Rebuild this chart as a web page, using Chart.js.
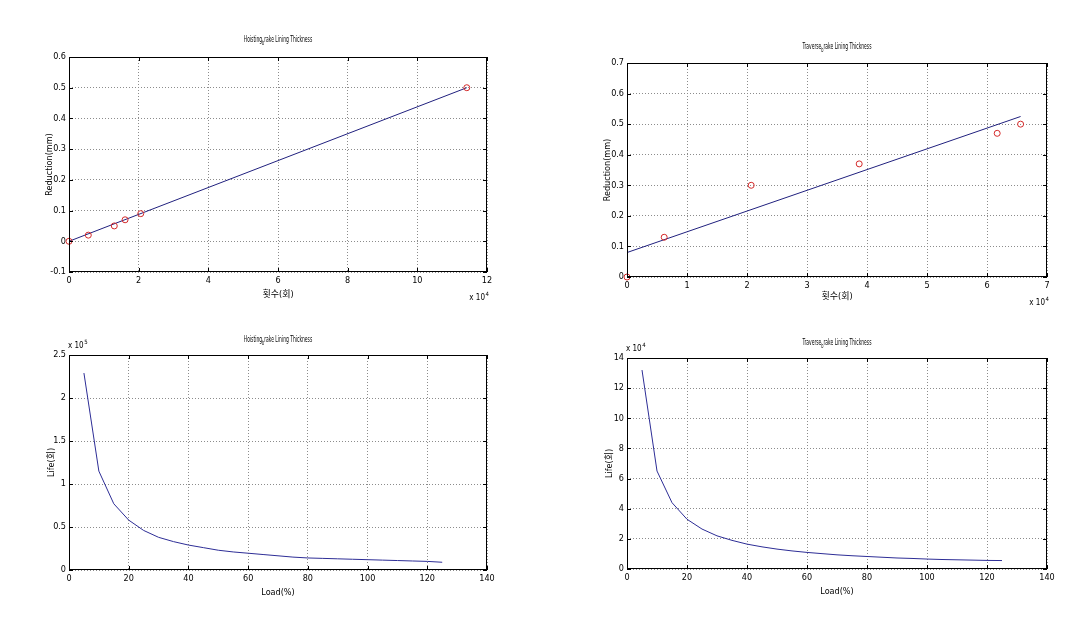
<!DOCTYPE html>
<html>
<head>
<meta charset="utf-8">
<script src="https://cdn.jsdelivr.net/npm/chart.js@4.4.1/dist/chart.umd.min.js"></script>
<style>
  html, body { margin: 0; padding: 0; background: #fff; }
  body { width: 1089px; height: 633px; position: relative; overflow: hidden; }
  canvas { position: absolute; }
</style>
</head>
<body>
<canvas id="hoistReduction"></canvas>
<canvas id="traverseReduction"></canvas>
<canvas id="hoistLife"></canvas>
<canvas id="traverseLife"></canvas>
<script>
// 데이터
const hoistCount = [0, 5540, 13000, 16100, 20600, 114200];      // 횟수(회)
const hoistReduction = [0, 0.02, 0.05, 0.07, 0.09, 0.5];        // mm
const hoistFitX = [0, 114200];
const hoistFitY = [0.0, 0.5];

const traverseCount = [0, 6200, 20700, 38700, 61700, 65600];
const traverseReduction = [0, 0.13, 0.30, 0.37, 0.47, 0.50];
const traverseFitX = [0, 65600];
const traverseFitY = [0.08, 0.525];

const loadPct = [5, 10, 15, 20, 25, 30, 35, 40, 45, 50, 55, 60, 65, 70, 75, 80, 85, 90, 95, 100, 105, 110, 115, 120, 125];
const hoistLife = [229000, 115000, 77000, 58000, 46000, 38000, 33000, 29000, 26000, 23000, 21000, 19500, 18000,
  16500, 15000, 14000, 13500, 13000, 12500, 12000, 11500, 11000, 10500, 10000, 9000];
const traverseLife = [132000, 65000, 44000, 33000, 26500, 22000, 19000, 16500, 14700, 13200, 12000, 11000, 10200,
  9400, 8800, 8300, 7800, 7300, 7000, 6600, 6300, 6100, 5900, 5700, 5600];

const FONT = "'Liberation Sans Narrow', 'DejaVu Sans Condensed', 'Liberation Sans', 'Noto Sans CJK KR', sans-serif";
const toXY = (xs, ys) => xs.map((x, i) => ({ x: x, y: ys[i] }));

// MATLAB 스타일 테두리, 안쪽 눈금, 제목, 지수 표시
const matlabFrame = {
  id: 'matlabFrame',
  afterDraw(chart, args, o) {
    const { ctx, chartArea: a } = chart;
    const xs = chart.scales.x, ys = chart.scales.y;
    ctx.save();
    ctx.strokeStyle = '#000';
    ctx.lineWidth = 1;
    ctx.beginPath();
    xs.ticks.forEach((t, i) => {
      const px = Math.round(xs.getPixelForTick(i)) + 0.5;
      ctx.moveTo(px, a.bottom); ctx.lineTo(px, a.bottom - 4);
      ctx.moveTo(px, a.top); ctx.lineTo(px, a.top + 4);
    });
    ys.ticks.forEach((t, i) => {
      const py = Math.round(ys.getPixelForTick(i)) + 0.5;
      ctx.moveTo(a.left, py); ctx.lineTo(a.left + 4, py);
      ctx.moveTo(a.right, py); ctx.lineTo(a.right - 4, py);
    });
    ctx.stroke();
    ctx.strokeRect(Math.round(a.left) + 0.5, Math.round(a.top) + 0.5, Math.round(a.width) - 1, Math.round(a.height) - 1);

    // 제목 (아래첨자 포함, 가로로 좁게)
    ctx.fillStyle = '#000';
    ctx.textBaseline = 'middle';
    ctx.textAlign = 'left';
    const [head, tail] = o.title.split('_');
    const sub = tail[0], rest = tail.slice(1);
    const sx = 0.55;
    ctx.font = '9px ' + FONT;
    const wHead = ctx.measureText(head).width, wRest = ctx.measureText(rest).width;
    ctx.font = '7px ' + FONT;
    const wSub = ctx.measureText(sub).width;
    const cx = (a.left + a.right) / 2;
    const y = a.top - o.titleGap;
    ctx.save();
    ctx.translate(cx, 0);
    ctx.scale(sx, 1);
    let x = -(wHead + wSub + wRest) / 2;
    ctx.font = '9px ' + FONT; ctx.fillText(head, x, y); x += wHead;
    ctx.font = '7px ' + FONT; ctx.fillText(sub, x, y + 3); x += wSub;
    ctx.font = '9px ' + FONT; ctx.fillText(rest, x, y);
    ctx.restore();

    // 지수 표시 (x 10^n)
    ctx.font = '8px ' + FONT;
    const wBase = ctx.measureText('x 10').width;
    let ex, ey;
    if (o.expAt === 'bottom') { ex = a.right - wBase - 2; ey = a.bottom + 26; }
    else { ex = a.left - 1; ey = a.top - 9; }
    ctx.fillText('x 10', ex, ey);
    ctx.font = '6px ' + FONT;
    ctx.fillText(o.expPow, ex + wBase + 0.5, ey - 4);
    ctx.restore();
  }
};

function makePanel(id, rect, area, p) {
  const cv = document.getElementById(id);
  cv.style.left = rect.x + 'px';
  cv.style.top = rect.y + 'px';
  cv.width = rect.w;
  cv.height = rect.h;
  const lh = 9 * 1.2;
  const yW = area.l - p.yTitleX + lh / 2;
  const xH = p.xTitleY - area.b + lh / 2;
  const tickFont = { family: FONT, size: 9 };
  return new Chart(cv.getContext('2d'), {
    type: 'scatter',
    data: { datasets: p.datasets },
    options: {
      responsive: false,
      animation: false,
      events: [],
      layout: {
        padding: {
          left: area.l - rect.x - yW,
          top: area.t - rect.y,
          right: rect.x + rect.w - area.r,
          bottom: rect.y + rect.h - area.b - xH
        }
      },
      plugins: {
        legend: { display: false },
        tooltip: { enabled: false },
        matlabFrame: { title: p.title, titleGap: p.titleGap, expAt: p.expAt, expPow: p.expPow }
      },
      scales: {
        x: {
          type: 'linear', min: p.xMin, max: p.xMax,
          ticks: { stepSize: p.xStep, maxRotation: 0, padding: 3, color: '#000', font: tickFont, callback: p.xFmt },
          grid: { color: '#8c8c8c', drawTicks: false },
          border: { display: false, dash: [1, 2] },
          title: { display: true, text: p.xTitle, color: '#000', font: tickFont, padding: 0 },
          afterFit: s => { s.height = xH; }
        },
        y: {
          type: 'linear', min: p.yMin, max: p.yMax,
          ticks: { stepSize: p.yStep, padding: 3, color: '#000', font: tickFont, callback: p.yFmt },
          grid: { color: '#8c8c8c', drawTicks: false },
          border: { display: false, dash: [1, 2] },
          title: { display: true, text: p.yTitle, color: '#000', font: tickFont, padding: 0 },
          afterFit: s => { s.width = yW; }
        }
      }
    },
    plugins: [matlabFrame]
  });
}

const markerSet = (data) => ({
  data: data, showLine: false, clip: false, pointStyle: 'circle', pointRadius: 3,
  pointBorderColor: '#d42a2a', pointBackgroundColor: 'rgba(0,0,0,0)', pointBorderWidth: 1
});
const lineSet = (data, color) => ({
  data: data, showLine: true, pointRadius: 0, borderColor: color, borderWidth: 1, tension: 0
});

makePanel('hoistReduction', { x: 0, y: 20, w: 545, h: 300 }, { l: 69, t: 57, r: 487, b: 272 }, {
  title: 'Hoisting_brake Lining Thickness', titleGap: 17, expAt: 'bottom', expPow: '4',
  xTitle: '횟수(회)', yTitle: 'Reduction(mm)', xTitleY: 295, yTitleX: 50,
  xMin: 0, xMax: 120000, xStep: 20000, xFmt: v => String(v / 1e4),
  yMin: -0.1, yMax: 0.6, yStep: 0.1, yFmt: v => String(+v.toFixed(1)),
  datasets: [markerSet(toXY(hoistCount, hoistReduction)), lineSet(toXY(hoistFitX, hoistFitY), '#20207e')]
});

makePanel('traverseReduction', { x: 560, y: 20, w: 529, h: 300 }, { l: 627, t: 63, r: 1047, b: 277 }, {
  title: 'Traverse_brake Lining Thickness', titleGap: 16, expAt: 'bottom', expPow: '4',
  xTitle: '횟수(회)', yTitle: 'Reduction(mm)', xTitleY: 297, yTitleX: 608,
  xMin: 0, xMax: 70000, xStep: 10000, xFmt: v => String(v / 1e4),
  yMin: 0, yMax: 0.7, yStep: 0.1, yFmt: v => String(+v.toFixed(1)),
  datasets: [markerSet(toXY(traverseCount, traverseReduction)), lineSet(toXY(traverseFitX, traverseFitY), '#20207e')]
});

makePanel('hoistLife', { x: 0, y: 325, w: 545, h: 300 }, { l: 69, t: 355, r: 487, b: 570 }, {
  title: 'Hoisting_brake Lining Thickness', titleGap: 15, expAt: 'top', expPow: '5',
  xTitle: 'Load(%)', yTitle: 'Life(회)', xTitleY: 593, yTitleX: 52,
  xMin: 0, xMax: 140, xStep: 20, xFmt: v => String(v),
  yMin: 0, yMax: 250000, yStep: 50000, yFmt: v => String(+(v / 1e5).toFixed(1)),
  datasets: [lineSet(toXY(loadPct, hoistLife), '#2d2d96')]
});

makePanel('traverseLife', { x: 560, y: 325, w: 529, h: 300 }, { l: 627, t: 358, r: 1047, b: 569 }, {
  title: 'Traverse_brake Lining Thickness', titleGap: 15, expAt: 'top', expPow: '4',
  xTitle: 'Load(%)', yTitle: 'Life(회)', xTitleY: 592, yTitleX: 610,
  xMin: 0, xMax: 140, xStep: 20, xFmt: v => String(v),
  yMin: 0, yMax: 140000, yStep: 20000, yFmt: v => String(v / 1e4),
  datasets: [lineSet(toXY(loadPct, traverseLife), '#2d2d96')]
});
</script>
</body>
</html>
